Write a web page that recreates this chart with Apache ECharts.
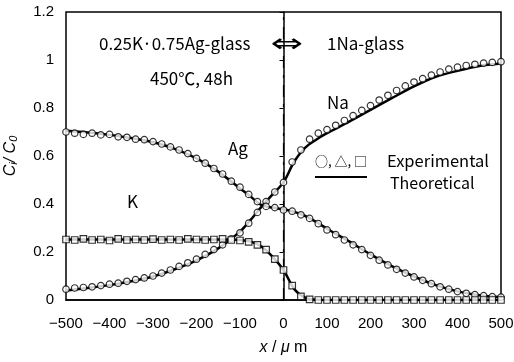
<!DOCTYPE html>
<html>
<head>
<meta charset="utf-8">
<script src="https://cdn.jsdelivr.net/npm/echarts@6/dist/echarts.min.js"></script>
<style>html,body{margin:0;background:#fff}#chart{width:514px;height:362px}</style>
</head>
<body>
<div id="chart"></div>
<script>
// theoretical curves
var theoX=[-500,-450,-400,-350,-300,-250,-200,-150,-100,-75,-50,-25,0,25,50,75,100,150,200,250,300,350,400,450,500];
var theoNa=[0.04,0.05,0.062,0.078,0.098,0.128,0.165,0.215,0.285,0.335,0.39,0.44,0.49,0.578,0.635,0.668,0.695,0.742,0.792,0.842,0.89,0.93,0.955,0.975,0.985];
var theoAg=[0.705,0.698,0.688,0.675,0.657,0.63,0.59,0.535,0.465,0.43,0.395,0.385,0.378,0.367,0.35,0.325,0.297,0.245,0.19,0.14,0.098,0.062,0.036,0.02,0.012];
var theoK=[0.252,0.252,0.252,0.252,0.252,0.252,0.252,0.252,0.25,0.243,0.222,0.18,0.125,0.045,0.01,0.001,0,0,0,0,0,0,0,0,0];

// experimental points
var expX=[-500,-480,-460,-440,-420,-400,-380,-360,-340,-320,-300,-280,-260,-240,-220,-200,-180,-160,-140,-120,-100,-80,-60,-40,-20,0,20,40,60,80,100,120,140,160,180,200,220,240,260,280,300,320,340,360,380,400,420,440,460,480,500];
var expNa=[0.045,0.05,0.052,0.055,0.06,0.066,0.07,0.078,0.085,0.092,0.1,0.112,0.125,0.14,0.155,0.17,0.19,0.21,0.23,0.255,0.28,0.32,0.365,0.41,0.45,0.49,0.575,0.625,0.67,0.695,0.71,0.728,0.748,0.768,0.79,0.81,0.833,0.853,0.873,0.892,0.908,0.922,0.937,0.95,0.962,0.97,0.977,0.982,0.987,0.99,0.993];
var expAg=[0.7,0.695,0.69,0.695,0.688,0.69,0.68,0.678,0.67,0.668,0.66,0.65,0.638,0.625,0.61,0.59,0.57,0.548,0.525,0.495,0.47,0.44,0.41,0.39,0.385,0.375,0.37,0.355,0.34,0.318,0.292,0.272,0.25,0.23,0.21,0.186,0.166,0.146,0.128,0.112,0.096,0.082,0.068,0.055,0.045,0.035,0.028,0.022,0.018,0.014,0.012];
var expK=[0.252,0.25,0.255,0.25,0.252,0.248,0.255,0.25,0.252,0.25,0.254,0.25,0.252,0.25,0.255,0.252,0.25,0.252,0.255,0.25,0.248,0.242,0.23,0.21,0.17,0.125,0.06,0.015,0.003,0,0,0,0,0,0,0,0,0,0,0,0,0,0,0,0,0,0,0,0,0,0];

// interface position
var interfaceX=0;

var chart=echarts.init(document.getElementById("chart"));
var font="'Liberation Sans', Arial, sans-serif";
var jfont="'Noto Sans CJK JP', 'Liberation Sans', sans-serif";

function pairs(xs,ys){return xs.map((x,i)=>[x,ys[i]]);}
function theo(ys){
  return {type:'line',data:pairs(theoX,ys),symbol:'none',smooth:0.3,z:2,
    lineStyle:{color:'#000',width:2.5}};
}
function exp(ys,sym){
  return {type:'scatter',data:pairs(expX,ys),symbol:sym,symbolSize:6.5,z:3,
    itemStyle:{color:'#fff',borderColor:'#000',borderWidth:1.2}};
}

var series=[
  theo(theoNa),theo(theoAg),theo(theoK),
  exp(expNa,'circle'),exp(expAg,'circle'),exp(expK,'rect')];
// dash-dot line at the glass interface
series[0].markLine={symbol:'none',silent:true,label:{show:false},z:1,
  lineStyle:{color:'#000',width:1.2,type:[12,7,3,7]},data:[{xAxis:interfaceX}]};

var option={
  animation:false,
  backgroundColor:'#fff',
  grid:{left:66,right:13,top:12,bottom:62,show:true,borderColor:'#000',borderWidth:1.5,outerBoundsMode:'none'},
  xAxis:{type:'value',min:-500,max:500,interval:100,
    axisLine:{lineStyle:{color:'#000',width:1.5}},axisTick:{show:false},splitLine:{show:false},
    axisLabel:{color:'#000',fontSize:15,fontFamily:font,margin:16,formatter:(v)=>String(v).replace('-','\u2212')},
    name:'{i|x} / {i|\u03bc} m',nameLocation:'middle',nameGap:40,
    nameTextStyle:{color:'#000',fontSize:16,fontFamily:font,rich:{i:{fontStyle:'italic',fontSize:16,fontFamily:font}}}},
  yAxis:{type:'value',min:0,max:1.2,interval:0.2,
    axisLine:{show:true,lineStyle:{color:'#000',width:1.5}},
    axisTick:{show:true,length:4,lineStyle:{color:'#000'}},splitLine:{show:false},
    axisLabel:{color:'#000',fontSize:15,fontFamily:font,margin:12},
    name:'{i|C}{s|i}{i|/ C}{s|0}',nameLocation:'middle',nameGap:47,nameRotate:90,
    nameTextStyle:{color:'#000',fontFamily:font,rich:{
      i:{fontStyle:'italic',fontSize:16,fontFamily:font},
      s:{fontStyle:'italic',fontSize:11,fontFamily:font,verticalAlign:'bottom',padding:[6,0,0,0]}}}},
  graphic:[
    {type:'text',left:99,top:35,style:{text:'0.25K\u00b70.75Ag-glass',font:'17px '+jfont,fill:'#000'}},
    {type:'text',x:287,y:45,scaleX:1.5,style:{text:'\u21d4',font:'26px DejaVu Sans',fill:'#000',align:'center',verticalAlign:'middle'}},
    {type:'text',left:327,top:35,style:{text:'1Na-glass',font:'17px '+jfont,fill:'#000'}},
    {type:'text',left:150,top:70,style:{text:'450\u2103, 48h',font:'17px '+jfont,fill:'#000'}},
    {type:'text',left:228,top:140,style:{text:'Ag',font:'17px '+jfont,fill:'#000'}},
    {type:'text',left:327,top:94,style:{text:'Na',font:'17px '+jfont,fill:'#000'}},
    {type:'text',left:127,top:193,style:{text:'K',font:'17px '+jfont,fill:'#000'}},
    {type:'text',left:315,top:155,style:{text:'\u25cb, \u25b3, \u25a1',font:'13px '+jfont,fill:'#000'}},
    {type:'text',left:387,top:152,style:{text:'Experimental',font:'16.5px '+jfont,fill:'#000'}},
    {type:'line',shape:{x1:315,y1:177,x2:367,y2:177},style:{stroke:'#000',lineWidth:2}},
    {type:'text',left:390,top:175,style:{text:'Theoretical',font:'16px '+jfont,fill:'#000'}}
  ],
  series:series
};
chart.setOption(option);
</script>
</body>
</html>
